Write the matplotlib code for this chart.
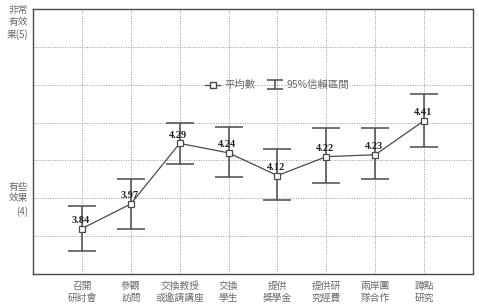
import numpy as np
import matplotlib
matplotlib.use('Agg')
import matplotlib.pyplot as plt
from matplotlib.lines import Line2D
from matplotlib.legend_handler import HandlerErrorbar

plt.rcParams['font.family'] = ['Noto Sans CJK TC', 'DejaVu Sans']

categories = ['召開\n研討會', '參觀\n訪問', '交換教授\n或邀請講座', '交換\n學生',
              '提供\n獎學金', '提供研\n究經費', '兩岸團\n隊合作', '蹲點\n研究']
means = [3.84, 3.97, 4.29, 4.24, 4.12, 4.22, 4.23, 4.41]
ci_low = [3.72, 3.84, 4.18, 4.11, 3.99, 4.08, 4.10, 4.27]
ci_high = [3.96, 4.10, 4.40, 4.375, 4.26, 4.37, 4.37, 4.55]

line_col = '#4a4a4a'
text_col = '#6a6a6a'


def main():
    fig = plt.figure(figsize=(4.79, 3.07), dpi=100)
    ax = fig.add_axes([33 / 479, 33 / 307, 440 / 479, 265 / 307])

    x = np.arange(len(categories))
    m = np.array(means)
    err = [m - np.array(ci_low), np.array(ci_high) - m]

    ax.errorbar(x, m, yerr=err, fmt='none', ecolor=line_col, elinewidth=1.1,
                capsize=10, capthick=1.1, zorder=3)
    ax.plot(x, m, color=line_col, lw=0.9, marker='s', markersize=5,
            markerfacecolor='white', markeredgecolor=line_col, markeredgewidth=0.9, zorder=4)

    for xi, yi in zip(x, m):
        ax.annotate('%.2f' % yi, (xi, yi),
                    xytext=(-1, 2.5), textcoords='offset points', ha='center', va='bottom',
                    fontsize=7.5, fontweight='bold', family='Liberation Serif', color='#222222',
                    zorder=5)

    ax.set_xlim(-1, len(categories))
    ax.set_ylim(3.6, 5.0)
    ax.set_xticks(x)
    ax.set_xticklabels(categories, fontsize=7, color=text_col, linespacing=1.25)
    ax.set_yticks(np.arange(3.6, 5.01, 0.2))
    ax.set_yticklabels([])
    ax.tick_params(length=0, pad=5)
    ax.grid(True, linestyle=(0, (1, 1.5)), color='#9a9a9a', linewidth=0.7)
    for s in ax.spines.values():
        s.set_color(line_col)
        s.set_linewidth(1.0)

    fig.text(28 / 479, 1 - 5 / 307, '非常\n有效\n果(5)', ha='right', va='top',
             fontsize=7, color=text_col, linespacing=1.25)
    fig.text(28 / 479, 1 - 199 / 307, '有些\n效果\n(4)', ha='right', va='center',
             fontsize=7, color=text_col, linespacing=1.25)

    # legend proxies
    h1 = Line2D([], [], color=line_col, lw=0.9, marker='s', markersize=5,
                markerfacecolor='white', markeredgecolor=line_col)
    h2 = ax.errorbar([np.nan], [np.nan], yerr=[1], fmt='none', ecolor=line_col,
                     elinewidth=1.1, capsize=5.5, capthick=1.1)
    ax.legend([h1, h2], ['平均數', '95%信賴區間'], loc='center', ncol=2,
              bbox_to_anchor=(0.555, 0.713), frameon=False, fontsize=7.5,
              labelcolor=text_col, handlelength=1.4, handletextpad=0.4, columnspacing=1.2,
              handler_map={type(h2): HandlerErrorbar(yerr_size=0.4)})

    fig.savefig('out.png', dpi=100)


if __name__ == '__main__':
    main()
